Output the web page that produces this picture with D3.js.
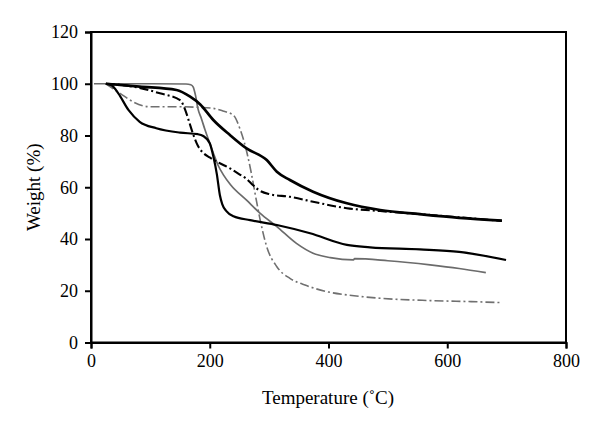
<!DOCTYPE html>
<html>
<head>
<meta charset="utf-8">
<script src="https://cdn.jsdelivr.net/npm/d3@7/dist/d3.min.js"></script>
<style>
  html, body { margin: 0; padding: 0; background: #fff; }
  svg { display: block; }
  text { font-family: "Liberation Serif", "DejaVu Serif", serif; fill: #000; }
</style>
</head>
<body>
<svg id="chart" width="600" height="428"></svg>
<script>
// ---- Data ----
const xTicks = [0, 200, 400, 600, 800];
const yTicks = [0, 20, 40, 60, 80, 100, 120];
const xLabel = "Temperature (˚C)";
const yLabel = "Weight (%)";

// thin solid gray curve
const graySolidT = [5, 25, 100, 160, 168, 172, 176, 180, 186, 192, 200, 206, 214, 223, 235, 262, 285, 313, 346, 374, 403, 442, 444, 500, 571, 620, 665];
const graySolidW = [100, 100, 100, 99.9, 99.6, 98.8, 95.5, 90.5, 86.5, 82.2, 77, 73.2, 68.5, 64.8, 61, 55, 49.9, 44.8, 38.3, 34.5, 32.8, 31.9, 32.4, 31.6, 30, 28.6, 27];

// thick solid black curve
const blackThickT = [25, 82, 144, 167, 184, 206, 234, 262, 296, 313, 335, 374, 431, 487, 554, 620, 692];
const blackThickW = [100, 98.9, 97.6, 95, 92, 86, 80.2, 75, 70.5, 66, 62.8, 58.3, 53.8, 51.2, 49.6, 48.2, 47.1];

// medium solid black curve
const blackSolidT = [25, 35, 46, 63, 82, 110, 150, 180, 189, 200, 206, 212, 217, 221, 228, 240, 268, 313, 369, 431, 470, 554, 620, 699];
const blackSolidW = [100, 99.3, 96.3, 89.9, 85.3, 82.8, 81.1, 80.5, 79.8, 77, 72, 65, 57, 53.5, 50.8, 48.8, 47.3, 45.4, 42.2, 37.7, 36.8, 36, 35, 31.9];

// black dash-dot curve
const blackDashT = [25, 71, 116, 150, 158, 165, 172, 180, 188, 200, 215, 234, 250, 262, 272, 282, 301, 335, 374, 431, 487, 571, 640, 692];
const blackDashW = [100, 98.9, 96.3, 93.7, 90.3, 85.5, 80.5, 76, 73.5, 71.5, 69.5, 67.3, 65, 63.2, 61, 59, 57.3, 56.3, 54.4, 51.9, 50.8, 49.3, 48, 47];

// gray dash-dot curve
const grayDashT = [25, 49, 71, 99, 150, 180, 206, 222, 240, 251, 258, 264, 270, 276, 285, 296, 313, 335, 363, 400, 431, 487, 571, 640, 692];
const grayDashW = [100, 96.3, 93, 91.1, 91.1, 90.9, 90.5, 89.5, 87.8, 82.5, 77.5, 72, 65.5, 58, 47.3, 37, 29.3, 24.8, 22, 19.5, 18.4, 17.1, 16.2, 15.8, 15.4];

const series = [
  { t: graySolidT, w: graySolidW, color: "#6b6b6b", width: 1.7, dash: null },
  { t: grayDashT, w: grayDashW, color: "#707070", width: 1.6, dash: "9,3,2,3" },
  { t: blackDashT, w: blackDashW, color: "#000", width: 2.1, dash: "9,3,2,3" },
  { t: blackSolidT, w: blackSolidW, color: "#000", width: 2.2, dash: null },
  { t: blackThickT, w: blackThickW, color: "#000", width: 2.7, dash: null }
];

// ---- Layout ----
const svg = d3.select("#chart");
const mLeft = 91, mRight = 566, mTop = 32, mBottom = 342.5;

const x = d3.scaleLinear().domain([0, 800]).range([mLeft, mRight]);
const y = d3.scaleLinear().domain([0, 120]).range([mBottom, mTop]);

// frame
svg.append("rect")
  .attr("x", mLeft).attr("y", mTop)
  .attr("width", mRight - mLeft).attr("height", mBottom - mTop)
  .attr("fill", "none").attr("stroke", "#000").attr("stroke-width", 2);

// axes
const yAxis = d3.axisLeft(y).tickValues(yTicks).tickSize(6).tickPadding(7).tickFormat(d3.format("d"));
const xAxis = d3.axisBottom(x).tickValues(xTicks).tickSize(6).tickPadding(6).tickFormat(d3.format("d"));

const gy = svg.append("g").attr("transform", `translate(${mLeft},0)`).call(yAxis);
const gx = svg.append("g").attr("transform", `translate(0,${mBottom})`).call(xAxis);
[gx, gy].forEach(g => {
  g.select(".domain").attr("stroke", "#000").attr("stroke-width", 2);
  g.selectAll(".tick line").attr("stroke", "#000").attr("stroke-width", 2);
  g.selectAll(".tick text")
    .style("font-family", '"Liberation Serif", "DejaVu Serif", serif')
    .style("font-size", "18px").attr("fill", "#000");
});

// curves
const line = d3.line()
  .x(d => x(d[0]))
  .y(d => y(d[1]))
  .curve(d3.curveMonotoneX);

series.forEach(s => {
  const pts = s.t.map((t, i) => [t, s.w[i]]);
  const p = svg.append("path")
    .datum(pts)
    .attr("d", line)
    .attr("fill", "none")
    .attr("stroke", s.color)
    .attr("stroke-width", s.width)
    .attr("stroke-linejoin", "round");
  if (s.dash) p.attr("stroke-dasharray", s.dash);
});

// axis titles
svg.append("text")
  .attr("x", 328).attr("y", 404)
  .attr("text-anchor", "middle")
  .style("font-size", "19px")
  .text(xLabel);

svg.append("text")
  .attr("transform", `translate(40,${(mTop + mBottom) / 2}) rotate(-90)`)
  .attr("text-anchor", "middle")
  .style("font-size", "19px")
  .text(yLabel);
</script>
</body>
</html>
